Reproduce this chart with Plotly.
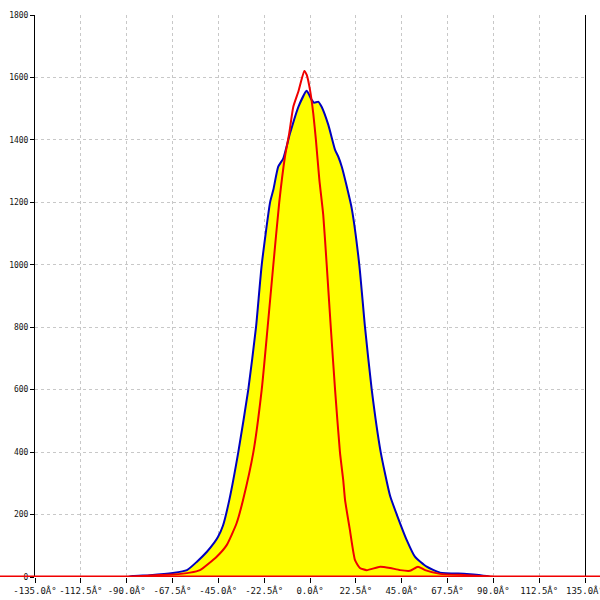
import plotly.graph_objects as go

# Blue series (filled yellow): angle in degrees, count
blue_x = [-89.3, -86.9, -78.5, -67.3, -60.4, -55.5, -50.6, -47.0, -45.2, -42.7, -39.6, -35.2, -30.3,
          -26.5, -23.7, -19.6, -18.0, -15.6, -13.1, -9.8, -5.7, -1.6, 0.8, 2.0, 4.1, 5.7, 9.0,
          12.3, 13.9, 15.6, 17.7, 20.5, 24.2, 27.0, 30.3, 34.7, 39.3, 42.6, 47.5, 51.5, 57.3,
          63.8, 76.9, 86.7, 88.4]
blue_y = [0, 3, 6, 13, 22, 49, 81, 110, 128, 165, 247, 400, 600,
          800, 1000, 1200, 1240, 1314, 1341, 1421, 1506, 1557, 1528, 1519, 1522, 1506, 1448,
          1368, 1346, 1314, 1260, 1180, 1000, 800, 600, 400, 260, 200, 118, 65, 33,
          14, 10, 3, 0]

# Red series
red_x = [-89.3, -78.5, -67.3, -58.9, -54.0, -45.8, -40.9, -36.0, -32.9, -27.8, -23.7, -20.8,
         -18.0, -15.1, -12.3, -10.2, -8.2, -5.7, -2.8, -1.6, 0.0, 1.6, 2.9, 4.6, 6.5, 8.2,
         10.2, 12.3, 14.7, 16.3, 17.2, 19.6, 22.1, 24.5, 27.8, 34.4, 39.3, 44.2, 49.1, 53.0,
         56.5, 63.8, 76.9, 89.8]
red_y = [0, 5, 8, 14, 22, 65, 102, 173, 246, 400, 600, 800,
         1000, 1200, 1346, 1421, 1506, 1555, 1621, 1608, 1560, 1485, 1400, 1272, 1160, 1000,
         800, 600, 400, 311, 247, 150, 54, 29, 22, 33, 29, 22, 20, 33,
         22, 10, 6, 1]

x_tickvals = [-135, -112.5, -90, -67.5, -45, -22.5, 0, 22.5, 45, 67.5, 90, 112.5, 135]
x_ticktext = ["-135.0Â°", "-112.5Â°", "-90.0Â°", "-67.5Â°", "-45.0Â°", "-22.5Â°", "0.0Â°",
              "22.5Â°", "45.0Â°", "67.5Â°", "90.0Â°", "112.5Â°", "135.0Â°"]
y_tickvals = [0, 200, 400, 600, 800, 1000, 1200, 1400, 1600, 1800]

fig = go.Figure()
fig.add_trace(go.Scatter(x=blue_x, y=blue_y, mode="lines", fill="tozeroy",
                         fillcolor="#FFFF00",
                         line=dict(color="#0000C0", width=2, shape="spline", smoothing=0.5),
                         showlegend=False, hoverinfo="skip"))
fig.add_trace(go.Scatter(x=red_x, y=red_y, mode="lines",
                         line=dict(color="#F00000", width=2, shape="spline", smoothing=0.5),
                         showlegend=False, hoverinfo="skip"))

fig.add_shape(type="line", xref="paper", yref="y", x0=-0.1, x1=1.1, y0=0, y1=0,
              line=dict(color="#F00000", width=3), layer="above")

fig.update_layout(
    width=600, height=600, autosize=False,
    margin=dict(l=35, r=15, t=15, b=23, autoexpand=False),
    paper_bgcolor="white", plot_bgcolor="white",
    font=dict(family="DejaVu Sans Mono", size=9, color="#111111"),
)
fig.update_xaxes(range=[-135, 135], tickvals=x_tickvals, ticktext=x_ticktext,
                 showgrid=True, gridcolor="#C8C8C8", griddash="3px,3px", gridwidth=1,
                 ticks="outside", ticklen=5, tickcolor="black", zeroline=False,
                 showline=False, tickfont=dict(size=9), automargin=False,
                 ticklabeloverflow="allow")
fig.update_yaxes(range=[0, 1800], tickvals=y_tickvals,
                 showgrid=True, gridcolor="#C8C8C8", griddash="3px,3px", gridwidth=1,
                 ticks="outside", ticklen=4, tickcolor="black", zeroline=False,
                 showline=True, linecolor="black", linewidth=1, mirror=True,
                 tickfont=dict(size=8), automargin=False)

fig.write_html("out.html", config={"displayModeBar": False},
               post_script="document.body.style.margin='0px';")
